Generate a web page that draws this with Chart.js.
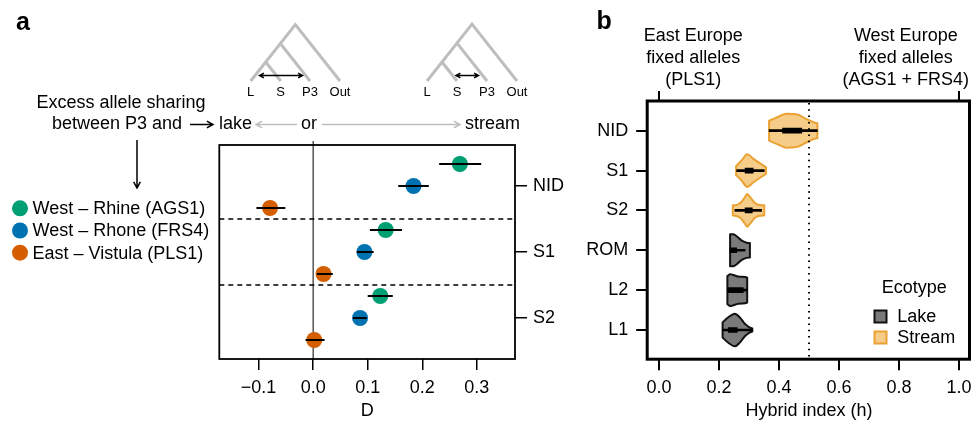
<!DOCTYPE html>
<html>
<head>
<meta charset="utf-8">
<script src="https://cdn.jsdelivr.net/npm/chart.js@4.4.1/dist/chart.umd.min.js"></script>
<style>
html, body { margin: 0; padding: 0; background: #fff; }
#wrap { position: relative; width: 971px; height: 422px; overflow: hidden; }
canvas { position: absolute; top: 0; }
#ca { left: 0; }
#cb { left: 560px; }
</style>
</head>
<body>
<div id="wrap">
  <canvas id="ca" width="590" height="422"></canvas>
  <canvas id="cb" width="411" height="422"></canvas>
</div>
<script>
var FONT = '"Liberation Sans", Arial, Helvetica, sans-serif';
Chart.defaults.font.family = FONT;
Chart.defaults.font.size = 18;
Chart.defaults.color = '#000';

// ---- panel a : D statistics ----
var groups = ['NID', 'S1', 'S2'];
var popNames = ['West \u2013 Rhine (AGS1)', 'West \u2013 Rhone (FRS4)', 'East \u2013 Vistula (PLS1)'];
var popColors = ['#009E73', '#0072B2', '#D55E00'];
var dRhine   = [0.269, 0.133, 0.123];
var dRhone   = [0.184, 0.094, 0.086];
var dVistula = [-0.079, 0.019, 0.002];
var ciRhine   = [[0.231, 0.308], [0.104, 0.163], [0.100, 0.146]];
var ciRhone   = [[0.156, 0.212], [0.080, 0.111], [0.073, 0.098]];
var ciVistula = [[-0.104, -0.051], [0.007, 0.036], [-0.014, 0.021]];
var dTicks = [-0.1, 0, 0.1, 0.2, 0.3];

// ---- panel b : hybrid index ----
var pops = ['NID', 'S1', 'S2', 'ROM', 'L2', 'L1'];
var ecotype = ['Stream', 'Stream', 'Stream', 'Lake', 'Lake', 'Lake'];
var whiskLo = [0.367, 0.259, 0.253, 0.237, 0.228, 0.212];
var boxLo   = [0.412, 0.287, 0.287, 0.237, 0.231, 0.231];
var boxHi   = [0.476, 0.314, 0.311, 0.259, 0.281, 0.261];
var whiskHi = [0.528, 0.351, 0.342, 0.287, 0.294, 0.311];
// violin outlines: h values and half widths (share of row spacing)
var violinH = [
  [0.367, 0.392, 0.42, 0.44, 0.464, 0.492, 0.52, 0.528],
  [0.257, 0.276, 0.294, 0.314, 0.337, 0.357],
  [0.246, 0.259, 0.273, 0.287, 0.294, 0.303, 0.318, 0.331, 0.351],
  [0.237, 0.248, 0.259, 0.276, 0.292, 0.303],
  [0.228, 0.237, 0.248, 0.264, 0.287, 0.294],
  [0.212, 0.231, 0.253, 0.27, 0.287, 0.303, 0.311]
];
var violinW = [
  [0.25, 0.33, 0.42, 0.42, 0.40, 0.29, 0.20, 0.19],
  [0.11, 0.26, 0.41, 0.30, 0.18, 0.08],
  [0.13, 0.14, 0.20, 0.34, 0.41, 0.34, 0.20, 0.14, 0.13],
  [0.40, 0.40, 0.35, 0.24, 0.19, 0.18],
  [0.35, 0.40, 0.38, 0.34, 0.33, 0.31],
  [0.19, 0.32, 0.41, 0.31, 0.15, 0.06, 0.04]
];
var hTicks = [0, 0.2, 0.4, 0.6, 0.8, 1.0];
var ecoFill = { Lake: '#7a7a7a', Stream: '#f5cc88' };
var ecoLine = { Lake: '#111111', Stream: '#e9a233' };

var OB = 560; // left edge of panel b canvas on the page

function fmt(v) {
  if (Math.abs(v) < 1e-9) v = 0;
  return v.toFixed(1).replace('-', '\u2212');
}

function noPad(s) {
  s.paddingLeft = 0; s.paddingRight = 0; s.paddingTop = 0; s.paddingBottom = 0;
}

function arrow(ctx, x1, y1, x2, y2, head) {
  var a = Math.atan2(y2 - y1, x2 - x1);
  ctx.beginPath();
  ctx.moveTo(x1, y1);
  ctx.lineTo(x2, y2);
  ctx.moveTo(x2 - head * Math.cos(a - 0.5), y2 - head * Math.sin(a - 0.5));
  ctx.lineTo(x2, y2);
  ctx.lineTo(x2 - head * Math.cos(a + 0.5), y2 - head * Math.sin(a + 0.5));
  ctx.stroke();
}

// smooth curve through pts (path already at pts[0])
function spline(ctx, pts) {
  for (var i = 0; i < pts.length - 1; i++) {
    var p0 = pts[Math.max(i - 1, 0)], p1 = pts[i], p2 = pts[i + 1], p3 = pts[Math.min(i + 2, pts.length - 1)];
    ctx.bezierCurveTo(
      p1[0] + (p2[0] - p0[0]) / 6, p1[1] + (p2[1] - p0[1]) / 6,
      p2[0] - (p3[0] - p1[0]) / 6, p2[1] - (p3[1] - p1[1]) / 6,
      p2[0], p2[1]);
  }
}

function tree(ctx, leaves, baseY) {
  var k = 0.791;
  ctx.save();
  ctx.strokeStyle = '#bebebe';
  ctx.lineWidth = 3;
  for (var i = 1; i < leaves.length; i++) {
    var t = (leaves[i] - leaves[0]) / (2 * k);
    ctx.beginPath();
    ctx.moveTo(leaves[i], baseY);
    ctx.lineTo(leaves[0] + k * t, baseY - t);
    if (i === leaves.length - 1) ctx.lineTo(leaves[0], baseY);
    ctx.stroke();
  }
  ctx.restore();
  ctx.save();
  ctx.font = '13px ' + FONT;
  ctx.fillStyle = '#000';
  ctx.textAlign = 'center';
  ctx.textBaseline = 'middle';
  ['L', 'S', 'P3', 'Out'].forEach(function (s, i) { ctx.fillText(s, leaves[i], baseY + 11); });
  ctx.restore();
}

var dVals = [dRhine, dRhone, dVistula];
var ciVals = [ciRhine, ciRhone, ciVistula];

var panelA = {
  id: 'panelA',
  beforeDatasetsDraw: function (chart) {
    var ctx = chart.ctx, x = chart.scales.x, y = chart.scales.y, ca = chart.chartArea;
    ctx.save();
    ctx.strokeStyle = '#000';
    ctx.lineWidth = 1;
    var x0 = x.getPixelForValue(0);
    ctx.beginPath();
    ctx.moveTo(x0, ca.top - 4);
    ctx.lineTo(x0, ca.bottom);
    ctx.stroke();
    ctx.lineWidth = 1.5;
    ctx.setLineDash([5, 4]);
    [2.5, 5.5].forEach(function (v) {
      var py = y.getPixelForValue(v);
      ctx.beginPath();
      ctx.moveTo(ca.left, py);
      ctx.lineTo(ca.right, py);
      ctx.stroke();
    });
    ctx.restore();
  },
  afterDatasetsDraw: function (chart) {
    var ctx = chart.ctx, x = chart.scales.x, y = chart.scales.y;
    ctx.save();
    ctx.strokeStyle = '#000';
    ctx.lineWidth = 2;
    ciVals.forEach(function (ci, k) {
      ci.forEach(function (c, i) {
        var py = y.getPixelForValue(3 * i + k);
        ctx.beginPath();
        ctx.moveTo(x.getPixelForValue(c[0]), py);
        ctx.lineTo(x.getPixelForValue(c[1]), py);
        ctx.stroke();
      });
    });
    ctx.restore();
  },
  afterDraw: function (chart) {
    var ctx = chart.ctx, ca = chart.chartArea;
    ctx.save();
    ctx.strokeStyle = '#000';
    ctx.lineWidth = 1.8;
    ctx.strokeRect(ca.left, ca.top, ca.right - ca.left, ca.bottom - ca.top);

    ctx.fillStyle = '#000';
    ctx.font = 'bold 25px ' + FONT;
    ctx.textBaseline = 'alphabetic';
    ctx.fillText('a', 16, 30);

    ctx.font = '18px ' + FONT;
    ctx.textBaseline = 'middle';
    ctx.textAlign = 'center';
    ctx.fillText('D', (ca.left + ca.right) / 2, 411);
    ctx.fillText('Excess allele sharing', 121, 103);
    ctx.textAlign = 'right';
    ctx.fillText('between P3 and', 182, 124);
    ctx.textAlign = 'left';
    ctx.fillText('lake', 219, 124);
    ctx.fillText('stream', 465, 124);
    ctx.textAlign = 'center';
    ctx.fillText('or', 309, 124);

    ctx.lineWidth = 1.5;
    arrow(ctx, 190, 124.5, 213, 124.5, 7);
    arrow(ctx, 137, 140, 137, 188, 7);
    ctx.strokeStyle = '#bebebe';
    arrow(ctx, 297, 124.5, 256, 124.5, 7);
    arrow(ctx, 322, 124.5, 460, 124.5, 7);

    tree(ctx, [250.7, 280.7, 310, 340], 81);
    tree(ctx, [427, 457, 487, 517], 81);
    ctx.strokeStyle = '#000';
    ctx.lineWidth = 1.5;
    arrow(ctx, 281, 75.5, 259.5, 75.5, 5);
    arrow(ctx, 281, 75.5, 302.5, 75.5, 5);
    arrow(ctx, 467, 75.5, 456, 75.5, 5);
    arrow(ctx, 467, 75.5, 478.5, 75.5, 5);

    ctx.font = '18px ' + FONT;
    ctx.textAlign = 'left';
    ctx.textBaseline = 'middle';
    popNames.forEach(function (n, k) {
      var py = 208.3 + 22.2 * k;
      ctx.fillStyle = popColors[k];
      ctx.beginPath();
      ctx.arc(20, py, 8, 0, Math.PI * 2);
      ctx.fill();
      ctx.fillStyle = '#000';
      ctx.fillText(n, 32.5, py + 1);
    });
    ctx.restore();
  }
};

new Chart(document.getElementById('ca'), {
  type: 'scatter',
  data: {
    datasets: popNames.map(function (name, k) {
      return {
        label: name,
        data: groups.map(function (g, i) { return { x: dVals[k][i], y: 3 * i + k }; }),
        backgroundColor: popColors[k],
        pointRadius: 8,
        pointHoverRadius: 8,
        borderWidth: 0
      };
    })
  },
  options: {
    responsive: false,
    animation: false,
    events: [],
    layout: { padding: { left: 219.3, top: 145, right: 0, bottom: 0 } },
    plugins: { legend: { display: false }, tooltip: { enabled: false } },
    scales: {
      x: {
        type: 'linear', position: 'bottom', min: -0.172, max: 0.37,
        afterBuildTicks: function (s) { s.ticks = dTicks.map(function (v) { return { value: v }; }); },
        afterFit: function (s) { s.height = 63; noPad(s); },
        grid: { drawOnChartArea: false, tickLength: 11, color: '#000', lineWidth: 1.5 },
        border: { display: false },
        ticks: { padding: 7, maxRotation: 0, callback: function (v) { return fmt(v); } }
      },
      y: {
        type: 'linear', position: 'right', reverse: true, min: -0.864, max: 8.864,
        afterBuildTicks: function (s) { s.ticks = [1, 4, 7].map(function (v) { return { value: v }; }); },
        afterFit: function (s) { s.width = 75; noPad(s); },
        grid: { drawOnChartArea: false, tickLength: 12, color: '#000', lineWidth: 1.5 },
        border: { display: false },
        ticks: { padding: 6, callback: function (v) { return groups[(v - 1) / 3]; } }
      }
    }
  },
  plugins: [panelA]
});

var panelB = {
  id: 'panelB',
  beforeDatasetsDraw: function (chart) {
    var ctx = chart.ctx, x = chart.scales.x, y = chart.scales.y;
    var unit = Math.abs(y.getPixelForValue(1) - y.getPixelForValue(0));
    ctx.save();
    ctx.lineWidth = 2;
    ctx.lineJoin = 'round';
    pops.forEach(function (p, i) {
      var hs = violinH[i], ws = violinW[i], yc = y.getPixelForValue(i);
      var top = hs.map(function (h, j) { return [x.getPixelForValue(h), yc - ws[j] * unit]; });
      var bot = hs.map(function (h, j) { return [x.getPixelForValue(h), yc + ws[j] * unit]; }).reverse();
      ctx.beginPath();
      ctx.moveTo(top[0][0], top[0][1]);
      spline(ctx, top);
      ctx.lineTo(bot[0][0], bot[0][1]);
      spline(ctx, bot);
      ctx.closePath();
      ctx.fillStyle = ecoFill[ecotype[i]];
      ctx.fill();
      ctx.strokeStyle = ecoLine[ecotype[i]];
      ctx.stroke();
    });
    ctx.restore();
  },
  afterDatasetsDraw: function (chart) {
    var ctx = chart.ctx, x = chart.scales.x, ca = chart.chartArea;
    ctx.save();
    ctx.strokeStyle = '#000';
    ctx.lineWidth = 2;
    ctx.setLineDash([1.5, 4.8]);
    var xm = x.getPixelForValue(0.5);
    ctx.beginPath();
    ctx.moveTo(xm, ca.top + 2);
    ctx.lineTo(xm, ca.bottom);
    ctx.stroke();
    ctx.restore();
  },
  afterDraw: function (chart) {
    var ctx = chart.ctx, x = chart.scales.x, ca = chart.chartArea;
    ctx.save();
    ctx.strokeStyle = '#000';
    ctx.lineWidth = 3;
    ctx.strokeRect(ca.left, ca.top, ca.right - ca.left, ca.bottom - ca.top);
    ctx.lineWidth = 2;
    [0, 1].forEach(function (v) {
      var px = x.getPixelForValue(v);
      ctx.beginPath();
      ctx.moveTo(px, ca.top);
      ctx.lineTo(px, ca.top - 10);
      ctx.stroke();
    });

    ctx.fillStyle = '#000';
    ctx.font = 'bold 25px ' + FONT;
    ctx.textBaseline = 'alphabetic';
    ctx.textAlign = 'left';
    ctx.fillText('b', 596.5 - OB, 28.5);

    ctx.font = '18px ' + FONT;
    ctx.textAlign = 'center';
    ['East Europe', 'fixed alleles', '(PLS1)'].forEach(function (s, i) { ctx.fillText(s, 693.3 - OB, 41 + 22 * i); });
    ['West Europe', 'fixed alleles', '(AGS1 + FRS4)'].forEach(function (s, i) { ctx.fillText(s, 905.8 - OB, 41 + 22 * i); });

    ctx.textBaseline = 'middle';
    ctx.fillText('Hybrid index (h)', x.getPixelForValue(0.5), 411.5);

    ctx.textAlign = 'left';
    ctx.fillText('Ecotype', 881.7 - OB, 288);
    ['Lake', 'Stream'].forEach(function (e, i) {
      var py = 316.5 + 21 * i;
      ctx.fillStyle = ecoFill[e];
      ctx.fillRect(874.5 - OB, py - 6, 12, 12);
      ctx.strokeStyle = ecoLine[e];
      ctx.lineWidth = 2;
      ctx.strokeRect(874.5 - OB, py - 6, 12, 12);
      ctx.fillStyle = '#000';
      ctx.fillText(e, 897.3 - OB, py + 1);
    });
    ctx.restore();
  }
};

new Chart(document.getElementById('cb'), {
  type: 'bar',
  data: {
    datasets: [
      {
        label: 'whisker',
        data: pops.map(function (p, i) { return { x: [whiskLo[i], whiskHi[i]], y: i }; }),
        backgroundColor: '#000', borderWidth: 0, barThickness: 2, grouped: false
      },
      {
        label: 'box',
        data: pops.map(function (p, i) { return { x: [boxLo[i], boxHi[i]], y: i }; }),
        backgroundColor: '#000', borderWidth: 0, barThickness: 5, grouped: false
      }
    ]
  },
  options: {
    indexAxis: 'y',
    responsive: false,
    animation: false,
    events: [],
    layout: { padding: { left: 0, top: 101, right: 1.5, bottom: 0 } },
    plugins: { legend: { display: false }, tooltip: { enabled: false } },
    scales: {
      x: {
        type: 'linear', position: 'bottom', min: -0.0393, max: 1.035,
        afterBuildTicks: function (s) { s.ticks = hTicks.map(function (v) { return { value: v }; }); },
        afterFit: function (s) { s.height = 62.8; noPad(s); },
        grid: { drawOnChartArea: false, tickLength: 11, color: '#000', lineWidth: 2 },
        border: { display: false },
        ticks: { padding: 7, maxRotation: 0, callback: function (v) { return fmt(v); } }
      },
      y: {
        type: 'linear', position: 'left', reverse: true, min: -0.745, max: 5.733, offset: false,
        afterBuildTicks: function (s) { s.ticks = pops.map(function (p, i) { return { value: i }; }); },
        afterFit: function (s) { s.width = 647.2 - OB; noPad(s); },
        grid: { drawOnChartArea: false, offset: false, tickLength: 11, color: '#000', lineWidth: 2 },
        border: { display: false },
        ticks: { padding: 8, callback: function (v) { return pops[v]; } }
      }
    }
  },
  plugins: [panelB]
});
</script>
</body>
</html>
